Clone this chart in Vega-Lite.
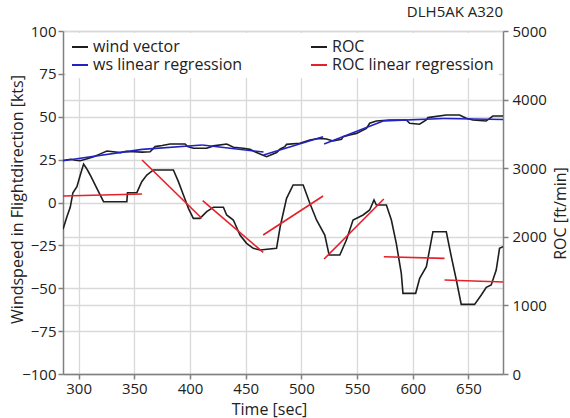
{
  "$schema": "https://vega.github.io/schema/vega-lite/v6.json",
  "width": 440,
  "height": 343,
  "autosize": {"type": "none"},
  "padding": {"left": 63, "top": 31, "right": 67, "bottom": 44},
  "background": "white",
  "title": {
    "text": "DLH5AK A320",
    "anchor": "end",
    "frame": "group",
    "fontSize": 15,
    "fontWeight": "normal",
    "font": "Open Sans",
    "color": "#222222",
    "offset": 4
  },
  "config": {
    "font": "Open Sans",
    "view": {"stroke": null},
    "axis": {
      "labelFont": "Open Sans",
      "labelFontSize": 15,
      "labelColor": "#222222",
      "titleFont": "Open Sans",
      "titleFontSize": 16,
      "titleFontWeight": "normal",
      "titleColor": "#222222",
      "domainColor": "#808080",
      "domainWidth": 1.5,
      "tickColor": "#808080",
      "tickWidth": 1.5,
      "tickSize": 5,
      "gridColor": "#d9d9d9",
      "gridWidth": 1.3
    },
    "legend": {
      "labelFont": "Open Sans",
      "labelFontSize": 16,
      "labelColor": "#222222",
      "labelLimit": 400
    }
  },
  "data": {
    "values": [
      {"s": "wind vector", "g": 0, "t": 286, "v": 24.5},
      {"s": "wind vector", "g": 0, "t": 290, "v": 24.9},
      {"s": "wind vector", "g": 0, "t": 293, "v": 25.2},
      {"s": "wind vector", "g": 0, "t": 297, "v": 24.6},
      {"s": "wind vector", "g": 0, "t": 301.5, "v": 24.4},
      {"s": "wind vector", "g": 0, "t": 307, "v": 25.4},
      {"s": "wind vector", "g": 0, "t": 313.5, "v": 26.7},
      {"s": "wind vector", "g": 0, "t": 319, "v": 28.2},
      {"s": "wind vector", "g": 0, "t": 325.4, "v": 30.0},
      {"s": "wind vector", "g": 0, "t": 331.4, "v": 29.6},
      {"s": "wind vector", "g": 0, "t": 337.4, "v": 29.1},
      {"s": "wind vector", "g": 0, "t": 343, "v": 29.8},
      {"s": "wind vector", "g": 0, "t": 349.3, "v": 29.6},
      {"s": "wind vector", "g": 0, "t": 357, "v": 29.4},
      {"s": "wind vector", "g": 0, "t": 364.2, "v": 29.6},
      {"s": "wind vector", "g": 0, "t": 368.7, "v": 32.6},
      {"s": "wind vector", "g": 0, "t": 375, "v": 33.2},
      {"s": "wind vector", "g": 0, "t": 382.2, "v": 34.1},
      {"s": "wind vector", "g": 0, "t": 395.6, "v": 34.1},
      {"s": "wind vector", "g": 0, "t": 398, "v": 32.6},
      {"s": "wind vector", "g": 0, "t": 403.1, "v": 31.6},
      {"s": "wind vector", "g": 0, "t": 415, "v": 31.6},
      {"s": "wind vector", "g": 0, "t": 421, "v": 33.0},
      {"s": "wind vector", "g": 0, "t": 433, "v": 34.1},
      {"s": "wind vector", "g": 0, "t": 439, "v": 32.2},
      {"s": "wind vector", "g": 0, "t": 447.9, "v": 31.6},
      {"s": "wind vector", "g": 0, "t": 453.9, "v": 31.0},
      {"s": "wind vector", "g": 0, "t": 459.8, "v": 29.1},
      {"s": "wind vector", "g": 0, "t": 464, "v": 28.0},
      {"s": "wind vector", "g": 0, "t": 468.8, "v": 26.7},
      {"s": "wind vector", "g": 0, "t": 473, "v": 27.8},
      {"s": "wind vector", "g": 0, "t": 477.8, "v": 29.1},
      {"s": "wind vector", "g": 0, "t": 481, "v": 31.2},
      {"s": "wind vector", "g": 0, "t": 485.2, "v": 32.6},
      {"s": "wind vector", "g": 0, "t": 486.7, "v": 33.9},
      {"s": "wind vector", "g": 0, "t": 498.6, "v": 34.5},
      {"s": "wind vector", "g": 0, "t": 507.6, "v": 36.4},
      {"s": "wind vector", "g": 0, "t": 516.5, "v": 37.4},
      {"s": "wind vector", "g": 0, "t": 522.5, "v": 37.0},
      {"s": "wind vector", "g": 0, "t": 528.5, "v": 35.9},
      {"s": "wind vector", "g": 0, "t": 536, "v": 36.8},
      {"s": "wind vector", "g": 0, "t": 537.5, "v": 38.4},
      {"s": "wind vector", "g": 0, "t": 543.4, "v": 39.4},
      {"s": "wind vector", "g": 0, "t": 549.4, "v": 40.3},
      {"s": "wind vector", "g": 0, "t": 558.4, "v": 43.2},
      {"s": "wind vector", "g": 0, "t": 561.3, "v": 46.2},
      {"s": "wind vector", "g": 0, "t": 567.3, "v": 47.5},
      {"s": "wind vector", "g": 0, "t": 579.3, "v": 48.1},
      {"s": "wind vector", "g": 0, "t": 594.2, "v": 48.1},
      {"s": "wind vector", "g": 0, "t": 597.2, "v": 46.2},
      {"s": "wind vector", "g": 0, "t": 606.1, "v": 45.6},
      {"s": "wind vector", "g": 0, "t": 612.1, "v": 48.1},
      {"s": "wind vector", "g": 0, "t": 613.6, "v": 49.5},
      {"s": "wind vector", "g": 0, "t": 630, "v": 51.0},
      {"s": "wind vector", "g": 0, "t": 642, "v": 51.0},
      {"s": "wind vector", "g": 0, "t": 648, "v": 49.1},
      {"s": "wind vector", "g": 0, "t": 654, "v": 48.1},
      {"s": "wind vector", "g": 0, "t": 665.9, "v": 47.5},
      {"s": "wind vector", "g": 0, "t": 671.9, "v": 50.4},
      {"s": "wind vector", "g": 0, "t": 681, "v": 50.4},

      {"s": "ws linear regression", "g": 1, "t": 286, "v": 24.3},
      {"s": "ws linear regression", "g": 1, "t": 357, "v": 31.0},
      {"s": "ws linear regression", "g": 2, "t": 357, "v": 31.0},
      {"s": "ws linear regression", "g": 2, "t": 411, "v": 33.5},
      {"s": "ws linear regression", "g": 3, "t": 411, "v": 33.5},
      {"s": "ws linear regression", "g": 3, "t": 466, "v": 29.4},
      {"s": "ws linear regression", "g": 4, "t": 466, "v": 27.7},
      {"s": "ws linear regression", "g": 4, "t": 519.5, "v": 38.4},
      {"s": "ws linear regression", "g": 5, "t": 520.4, "v": 34.1},
      {"s": "ws linear regression", "g": 5, "t": 574, "v": 47.6},
      {"s": "ws linear regression", "g": 6, "t": 574, "v": 47.6},
      {"s": "ws linear regression", "g": 6, "t": 628, "v": 49.0},
      {"s": "ws linear regression", "g": 7, "t": 628, "v": 49.0},
      {"s": "ws linear regression", "g": 7, "t": 681, "v": 48.4},

      {"s": "ROC", "g": 0, "t": 286, "r": 2110},
      {"s": "ROC", "g": 0, "t": 289.5, "r": 2293},
      {"s": "ROC", "g": 0, "t": 292.5, "r": 2430},
      {"s": "ROC", "g": 0, "t": 294.9, "r": 2643},
      {"s": "ROC", "g": 0, "t": 298.5, "r": 2731},
      {"s": "ROC", "g": 0, "t": 301.5, "r": 2900},
      {"s": "ROC", "g": 0, "t": 304.5, "r": 3061},
      {"s": "ROC", "g": 0, "t": 307, "r": 3000},
      {"s": "ROC", "g": 0, "t": 310.4, "r": 2901},
      {"s": "ROC", "g": 0, "t": 316.4, "r": 2706},
      {"s": "ROC", "g": 0, "t": 322.4, "r": 2512},
      {"s": "ROC", "g": 0, "t": 343.3, "r": 2512},
      {"s": "ROC", "g": 0, "t": 343.9, "r": 2643},
      {"s": "ROC", "g": 0, "t": 352.3, "r": 2643},
      {"s": "ROC", "g": 0, "t": 356.7, "r": 2804},
      {"s": "ROC", "g": 0, "t": 361.2, "r": 2901},
      {"s": "ROC", "g": 0, "t": 367.2, "r": 2974},
      {"s": "ROC", "g": 0, "t": 385.1, "r": 2974},
      {"s": "ROC", "g": 0, "t": 389.6, "r": 2804},
      {"s": "ROC", "g": 0, "t": 394.1, "r": 2609},
      {"s": "ROC", "g": 0, "t": 398.6, "r": 2415},
      {"s": "ROC", "g": 0, "t": 403, "r": 2269},
      {"s": "ROC", "g": 0, "t": 409, "r": 2269},
      {"s": "ROC", "g": 0, "t": 415, "r": 2366},
      {"s": "ROC", "g": 0, "t": 421, "r": 2430},
      {"s": "ROC", "g": 0, "t": 430, "r": 2430},
      {"s": "ROC", "g": 0, "t": 432.9, "r": 2318},
      {"s": "ROC", "g": 0, "t": 438.9, "r": 2245},
      {"s": "ROC", "g": 0, "t": 444.9, "r": 2026},
      {"s": "ROC", "g": 0, "t": 450.8, "r": 1905},
      {"s": "ROC", "g": 0, "t": 456.8, "r": 1832},
      {"s": "ROC", "g": 0, "t": 462.8, "r": 1808},
      {"s": "ROC", "g": 0, "t": 477.7, "r": 1832},
      {"s": "ROC", "g": 0, "t": 481, "r": 2150},
      {"s": "ROC", "g": 0, "t": 486.7, "r": 2560},
      {"s": "ROC", "g": 0, "t": 492.6, "r": 2755},
      {"s": "ROC", "g": 0, "t": 501.6, "r": 2755},
      {"s": "ROC", "g": 0, "t": 507.6, "r": 2488},
      {"s": "ROC", "g": 0, "t": 513.6, "r": 2245},
      {"s": "ROC", "g": 0, "t": 521, "r": 2026},
      {"s": "ROC", "g": 0, "t": 524.9, "r": 1735},
      {"s": "ROC", "g": 0, "t": 534.5, "r": 1735},
      {"s": "ROC", "g": 0, "t": 540.4, "r": 1953},
      {"s": "ROC", "g": 0, "t": 546.4, "r": 2245},
      {"s": "ROC", "g": 0, "t": 555.4, "r": 2318},
      {"s": "ROC", "g": 0, "t": 561.3, "r": 2391},
      {"s": "ROC", "g": 0, "t": 565.2, "r": 2536},
      {"s": "ROC", "g": 0, "t": 567.3, "r": 2464},
      {"s": "ROC", "g": 0, "t": 576.3, "r": 2464},
      {"s": "ROC", "g": 0, "t": 580.8, "r": 2245},
      {"s": "ROC", "g": 0, "t": 585.2, "r": 1905},
      {"s": "ROC", "g": 0, "t": 589.7, "r": 1467},
      {"s": "ROC", "g": 0, "t": 591.2, "r": 1176},
      {"s": "ROC", "g": 0, "t": 602.6, "r": 1176},
      {"s": "ROC", "g": 0, "t": 606.2, "r": 1394},
      {"s": "ROC", "g": 0, "t": 612.2, "r": 1564},
      {"s": "ROC", "g": 0, "t": 618.1, "r": 2074},
      {"s": "ROC", "g": 0, "t": 630.1, "r": 2074},
      {"s": "ROC", "g": 0, "t": 634.6, "r": 1710},
      {"s": "ROC", "g": 0, "t": 639.1, "r": 1370},
      {"s": "ROC", "g": 0, "t": 643.5, "r": 1015},
      {"s": "ROC", "g": 0, "t": 655.5, "r": 1015},
      {"s": "ROC", "g": 0, "t": 661.5, "r": 1151},
      {"s": "ROC", "g": 0, "t": 666, "r": 1263},
      {"s": "ROC", "g": 0, "t": 670.4, "r": 1297},
      {"s": "ROC", "g": 0, "t": 674.9, "r": 1516},
      {"s": "ROC", "g": 0, "t": 677.9, "r": 1831},
      {"s": "ROC", "g": 0, "t": 681, "r": 1856},

      {"s": "ROC linear regression", "g": 1, "t": 286, "r": 2595},
      {"s": "ROC linear regression", "g": 1, "t": 357, "r": 2624},
      {"s": "ROC linear regression", "g": 2, "t": 357, "r": 3120},
      {"s": "ROC linear regression", "g": 2, "t": 410.5, "r": 2270},
      {"s": "ROC linear regression", "g": 3, "t": 411.4, "r": 2526},
      {"s": "ROC linear regression", "g": 3, "t": 465.7, "r": 1774},
      {"s": "ROC linear regression", "g": 4, "t": 465.7, "r": 2026},
      {"s": "ROC linear regression", "g": 4, "t": 519.5, "r": 2595},
      {"s": "ROC linear regression", "g": 5, "t": 520.4, "r": 1676},
      {"s": "ROC linear regression", "g": 5, "t": 574, "r": 2551},
      {"s": "ROC linear regression", "g": 6, "t": 574, "r": 1710},
      {"s": "ROC linear regression", "g": 6, "t": 628.5, "r": 1686},
      {"s": "ROC linear regression", "g": 7, "t": 628.5, "r": 1370},
      {"s": "ROC linear regression", "g": 7, "t": 681, "r": 1341}
    ]
  },
  "encoding": {
    "x": {
      "field": "t",
      "type": "quantitative",
      "scale": {"domain": [286, 681], "nice": false, "zero": false},
      "axis": {
        "values": [300, 350, 400, 450, 500, 550, 600, 650],
        "title": "Time [sec]",
        "grid": true,
        "labelPadding": 2,
        "titleX": 206,
        "titleY": 35,
        "titleAlign": "center",
        "titleBaseline": "middle"
      }
    },
    "color": {
      "field": "s",
      "type": "nominal",
      "scale": {
        "domain": ["wind vector", "ws linear regression", "ROC", "ROC linear regression"],
        "range": ["#1e1e1e", "#2222c4", "#1e1e1e", "#e5202a"]
      },
      "legend": {
        "title": null,
        "orient": "none",
        "legendX": 3,
        "legendY": 2,
        "columns": 2,
        "columnPadding": 64,
        "rowPadding": 1,
        "symbolType": "stroke",
        "symbolSize": 256,
        "symbolStrokeWidth": 2,
        "labelOffset": 4,
        "padding": 5,
        "fillColor": "white"
      }
    },
    "detail": {"field": "g", "type": "nominal"}
  },
  "layer": [
    {
      "transform": [{"filter": "datum.s === 'wind vector' || datum.s === 'ws linear regression'"}],
      "mark": {"type": "line", "strokeWidth": 1.6, "clip": true},
      "encoding": {
        "y": {
          "field": "v",
          "type": "quantitative",
          "scale": {"domain": [-100, 100], "nice": false},
          "axis": {
            "orient": "left",
            "values": [-100, -75, -50, -25, 0, 25, 50, 75, 100],
            "title": "Windspeed in Flightdirection [kts]",
            "grid": true,
            "labelPadding": 2,
            "titleX": -46,
            "titleY": 168,
            "titleAngle": 270,
            "titleAlign": "center",
            "titleBaseline": "middle"
          }
        }
      }
    },
    {
      "transform": [{"filter": "datum.s === 'ROC' || datum.s === 'ROC linear regression'"}],
      "mark": {"type": "line", "strokeWidth": 1.6, "clip": true},
      "encoding": {
        "y": {
          "field": "r",
          "type": "quantitative",
          "scale": {"domain": [0, 5000], "nice": false},
          "axis": {
            "orient": "right",
            "values": [0, 1000, 2000, 3000, 4000, 5000],
            "format": "d",
            "title": "ROC [ft/min]",
            "grid": true,
            "labelPadding": 4,
            "titleX": 57,
            "titleY": 182,
            "titleAngle": 270,
            "titleAlign": "center",
            "titleBaseline": "middle"
          }
        }
      }
    }
  ],
  "resolve": {"scale": {"y": "independent"}}
}
